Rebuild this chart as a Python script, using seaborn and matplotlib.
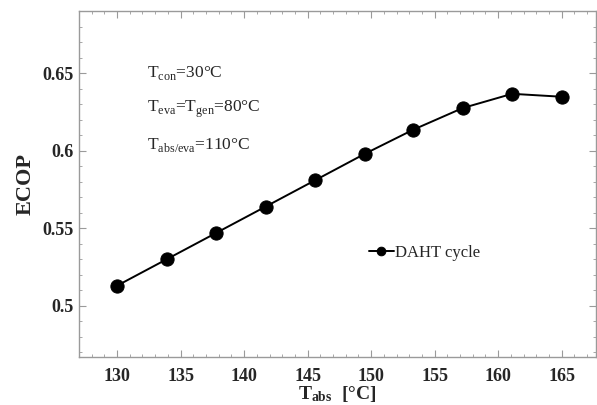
import matplotlib
matplotlib.use("Agg")
import matplotlib.pyplot as plt
import seaborn as sns
import pandas as pd
from matplotlib.ticker import MultipleLocator

# values
t_abs = [130.0, 133.9, 137.8, 141.7, 145.6, 149.5, 153.3, 157.2, 161.1, 165.0]
ecop = [0.513, 0.530, 0.547, 0.564, 0.581, 0.598, 0.6135, 0.6275, 0.6367, 0.6348]
series_name = "DAHT cycle"
notes = [
    r"T$_{\rm con}$=30°C",
    r"T$_{\rm eva}$=T$_{\rm gen}$=80°C",
    r"T$_{\rm abs/eva}$=110°C",
]

df = pd.DataFrame({"t_abs": t_abs, "ecop": ecop, "series": series_name})

sns.set_style("ticks")
plt.rcParams["font.family"] = ["Liberation Serif", "DejaVu Serif"]
plt.rcParams["mathtext.fontset"] = "custom"
plt.rcParams["mathtext.rm"] = "Liberation Serif"
plt.rcParams["mathtext.bf"] = "Liberation Serif:bold"

fig = plt.figure(figsize=(5.97, 4.05), dpi=100)
ax = fig.add_axes([0.1323, 0.1185, 0.866, 0.854])

sns.lineplot(data=df, x="t_abs", y="ecop", hue="series", palette=["black"],
             marker="o", markersize=9.5, linewidth=1.4, markeredgecolor="black",
             ax=ax)

ax.set_xlim(127.0, 167.7)
ax.set_ylim(0.467, 0.69)
ax.xaxis.set_major_locator(MultipleLocator(5))
ax.xaxis.set_minor_locator(MultipleLocator(1))
ax.yaxis.set_minor_locator(MultipleLocator(0.01))
ax.set_yticks([0.5, 0.55, 0.6, 0.65])
ax.set_yticklabels(["0.5", "0.55", "0.6", "0.65"])

ax.tick_params(which="both", direction="in", top=True, right=True,
               color="#9a9a9a")
ax.tick_params(which="major", length=5, labelsize=13)
ax.tick_params(which="minor", length=2.5)
ax.tick_params(axis="x", which="major", pad=8)
ax.tick_params(axis="y", which="major", pad=4)
for lbl in ax.get_xticklabels() + ax.get_yticklabels():
    lbl.set_fontweight("bold")
for sp in ax.spines.values():
    sp.set_color("#9a9a9a")
    sp.set_linewidth(1.0)

ax.set_xlabel(r"$\mathbf{T_{abs}}$  [°C]", fontsize=14, fontweight="bold",
              labelpad=-1)
ax.set_ylabel("ECOP", fontsize=16, fontweight="bold", labelpad=5)

for i, txt in enumerate(notes):
    ax.text(0.131, 0.82 - i * 0.104, txt, transform=ax.transAxes,
            fontsize=12.5, va="center", ha="left")

ax.legend(loc="center left", bbox_to_anchor=(0.56, 0.30), frameon=False,
          fontsize=12, handlelength=1.5, handletextpad=0.1, markerscale=0.65,
          borderaxespad=0, borderpad=0)

fig.savefig("out.png", dpi=100)
